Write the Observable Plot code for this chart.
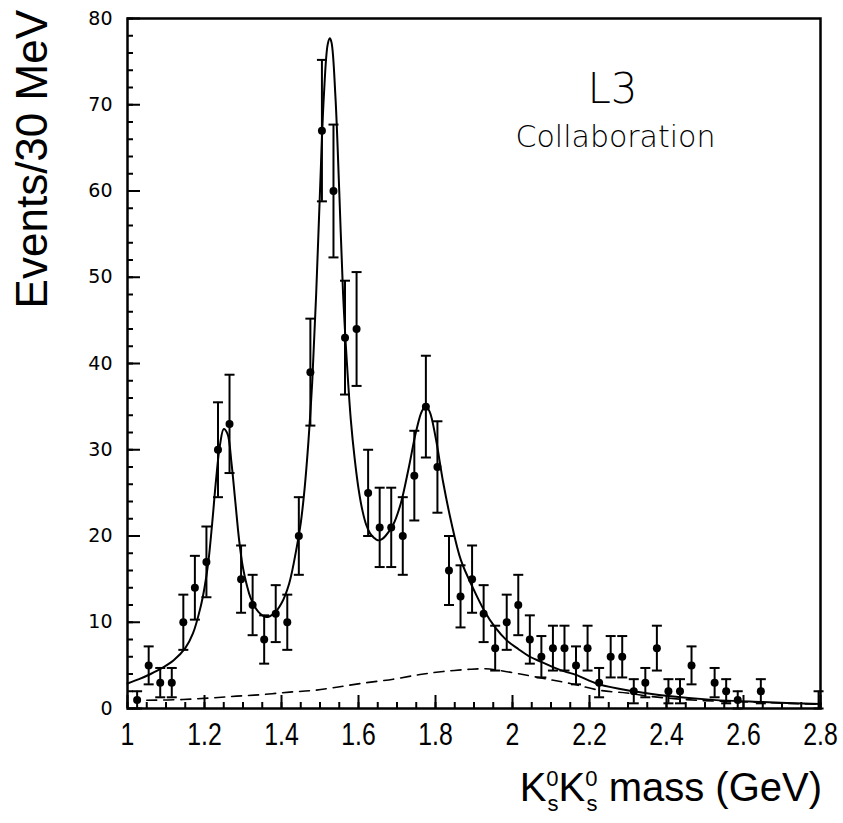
<!DOCTYPE html>
<html><head><meta charset="utf-8">
<script src="https://cdn.jsdelivr.net/npm/d3@7"></script>
<script src="https://cdn.jsdelivr.net/npm/@observablehq/plot@0.6"></script>
<style>
body{margin:0;background:#fff}
#chart svg{display:block}
</style>
</head><body><div id="chart"></div>
<script>
// Bin centres (GeV) and event counts
const binCenters = [1.025,1.055,1.085,1.115,1.145,1.175,1.205,1.235,1.265,1.295,1.325,1.355,1.385,1.415,1.445,1.475,1.505,1.535,1.565,1.595,1.625,1.655,1.685,1.715,1.745,1.775,1.805,1.835,1.865,1.895,1.925,1.955,1.985,2.015,2.045,2.075,2.105,2.135,2.165,2.195,2.225,2.255,2.285,2.315,2.345,2.375,2.405,2.435,2.465,2.525,2.555,2.585,2.645,2.795];
const counts     = [1,5,3,3,10,14,17,30,33,15,12,8,11,10,20,39,67,60,43,44,25,21,21,20,27,35,28,16,13,15,11,7,10,12,8,6,7,7,5,7,3,6,6,2,3,7,2,2,5,3,2,1,2,0];
const errors     = [1,2.2,1.7,1.7,3.2,3.7,4.1,5.5,5.7,3.9,3.5,2.8,3.3,3.2,4.5,6.2,8.2,7.7,6.6,6.6,5,4.6,4.6,4.5,5.2,5.9,5.3,4,3.6,3.9,3.3,2.6,3.2,3.5,2.8,2.4,2.6,2.6,2.2,2.6,1.7,2.4,2.4,1.4,1.7,2.6,1.4,1.4,2.2,1.7,1.4,1,1.4,2];

// Full fit (solid line)
const fitX = [1.00,1.03,1.06,1.09,1.12,1.15,1.17,1.19,1.20,1.21,1.22,1.23,1.24,1.25,1.26,1.27,1.28,1.29,1.30,1.31,1.32,1.34,1.36,1.38,1.40,1.42,1.44,1.45,1.46,1.47,1.48,1.49,1.50,1.51,1.52,1.5255,1.53,1.54,1.55,1.56,1.57,1.58,1.59,1.60,1.61,1.62,1.63,1.64,1.65,1.66,1.67,1.69,1.71,1.73,1.75,1.765,1.775,1.785,1.80,1.82,1.84,1.866,1.896,1.926,1.955,1.985,2.015,2.045,2.075,2.105,2.135,2.165,2.225,2.315,2.405,2.52,2.65,2.80];
const fitY = [2.9,3.4,4.0,4.7,5.6,7.0,8.7,11.8,14.0,17.0,21.5,26.5,30.5,32.4,31.8,28.5,24,19.5,16.3,14.3,12.8,11.2,10.6,11.0,12.2,14.5,18.8,21.5,25.5,31,38,48,60,71,77,77.7,77.2,71,60,48,40,33.5,29,25.5,23,21.3,20.3,19.8,19.5,19.6,20.0,21.3,23.8,27.8,32.2,34.5,35.0,34.4,31.5,26.2,21.8,17.2,14.1,11.4,9.4,7.9,6.9,6.0,5.4,4.8,4.3,3.9,2.8,2.0,1.45,1.0,0.75,0.52];

// Background (dashed line)
const bgX = [1.05,1.144,1.222,1.283,1.352,1.421,1.482,1.543,1.612,1.69,1.76,1.82,1.89,1.93,1.96,2.02,2.09,2.15,2.228,2.297,2.358,2.488,2.627,2.756,2.80];
const bgY = [0.95,1.04,1.24,1.43,1.62,1.9,2.09,2.47,2.94,3.4,3.94,4.29,4.55,4.6,4.45,4.0,3.4,2.9,2.1,1.8,1.4,0.93,0.73,0.54,0.5];

// Axis ticks
const xTicks = [1,1.2,1.4,1.6,1.8,2,2.2,2.4,2.6,2.8];
const xTickLabels = ["1","1.2","1.4","1.6","1.8","2","2.2","2.4","2.6","2.8"];
const xMinorTicks = d3.range(0, 37).map(i => +(1 + i * 0.05).toFixed(2));
const yTicks = [0,10,20,30,40,50,60,70,80];
const yTickLabels = ["0","10","20","30","40","50","60","70","80"];
const yMinorTicks = d3.range(0, 41).map(i => i * 2);

const points = binCenters.map((x, i) => ({x, n: counts[i], lo: Math.max(0, counts[i] - errors[i]), hi: counts[i] + errors[i]}));
const fit = fitX.map((x, i) => ({x, y: fitY[i]}));
const bg = bgX.map((x, i) => ({x, y: bgY[i]}));

const capSymbol = {draw(ctx, size) { const r = Math.sqrt(size / Math.PI); ctx.moveTo(-r, 0); ctx.lineTo(r, 0); }};

const narrow = "'Liberation Sans Narrow', 'Liberation Sans', sans-serif";
const wide = "'DejaVu Sans', sans-serif";

const chart = Plot.plot({
  width: 843,
  height: 823,
  marginLeft: 127,
  marginRight: 23,
  marginTop: 18,
  marginBottom: 115,
  style: {background: "#fff", color: "#000"},
  x: {domain: [1, 2.8], label: null},
  y: {domain: [0, 80], label: null},
  marks: [
    Plot.axisX({ticks: xMinorTicks, tickSize: -6, tickFormat: () => "", strokeWidth: 2, label: null}),
    Plot.axisX({ticks: xTicks, tickSize: -13, tickPadding: 27, strokeWidth: 2, label: null,
      tickFormat: d => xTickLabels[xTicks.indexOf(d)], fontSize: 31}),
    Plot.axisY({ticks: yMinorTicks, tickSize: -6, tickFormat: () => "", strokeWidth: 2, label: null}),
    Plot.axisY({ticks: yTicks, tickSize: -13, tickPadding: 28, strokeWidth: 2, label: null,
      tickFormat: d => yTickLabels[yTicks.indexOf(d)], fontSize: 19}),
    Plot.line(bg, {x: "x", y: "y", curve: "catmull-rom", stroke: "#000", strokeWidth: 1.6, strokeDasharray: "10,7"}),
    Plot.line(fit, {x: "x", y: "y", curve: "catmull-rom", stroke: "#000", strokeWidth: 2}),
    Plot.ruleX(points, {x: "x", y1: "lo", y2: "hi", stroke: "#000", strokeWidth: 2}),
    Plot.dot(points, {x: "x", y: "hi", symbol: capSymbol, r: 5, fill: "none", stroke: "#000", strokeWidth: 2}),
    Plot.dot(points, {x: "x", y: "lo", symbol: capSymbol, r: 5, fill: "none", stroke: "#000", strokeWidth: 2}),
    Plot.dot(points.filter(d => d.n > 0), {x: "x", y: "n", r: 4, fill: "#000", stroke: "none"}),
    Plot.frame({stroke: "#000", strokeWidth: 2.5}),
    Plot.text(["L3"], {frameAnchor: "top-left", dx: 485, dy: 55, textAnchor: "middle", text: d => d, fontSize: 42, fontWeight: 200, fontFamily: wide, fill: "#000"}),
    Plot.text(["Collaboration"], {frameAnchor: "top-left", dx: 488, dy: 107, textAnchor: "middle", text: d => d, fontSize: 30, fontWeight: 200, fontFamily: wide, fill: "#000"})
  ]
});

document.getElementById("chart").appendChild(chart);

const svg = d3.select(chart);
// tick label fonts: narrow condensed digits on x, wide rounded digits on y
svg.selectAll('g[aria-label="x-axis tick label"]').attr("font-family", narrow)
  .selectAll("text").attr("transform", function() { return this.getAttribute("transform") + " scale(0.8,1)"; });
svg.selectAll('g[aria-label="y-axis tick label"]').attr("font-family", wide);

// Axis titles with sub/superscripts
const xt = svg.append("text")
  .attr("x", 822).attr("y", 801)
  .attr("text-anchor", "end")
  .attr("font-family", narrow)
  .attr("font-size", 40)
  .attr("fill", "#000");
[["K",null],["0","sup"],["s","sub"],["K",null],["0","sup"],["s","sub"],[" mass (GeV)",null]].forEach(([t, kind], i, arr) => {
  const ts = xt.append("tspan").text(t);
  if (kind === "sup") ts.attr("font-size", 22).attr("dy", -15);
  if (kind === "sub") ts.attr("font-size", 22).attr("dy", 25).attr("dx", -11);
  if (kind === null && i > 0 && arr[i-1][1] === "sub") ts.attr("dy", -10);
});
svg.append("text")
  .attr("transform", "translate(47,10) rotate(-90)")
  .attr("text-anchor", "end")
  .attr("font-family", narrow)
  .attr("font-size", 44)
  .attr("fill", "#000")
  .text("Events/30 MeV");
</script>
</body></html>
